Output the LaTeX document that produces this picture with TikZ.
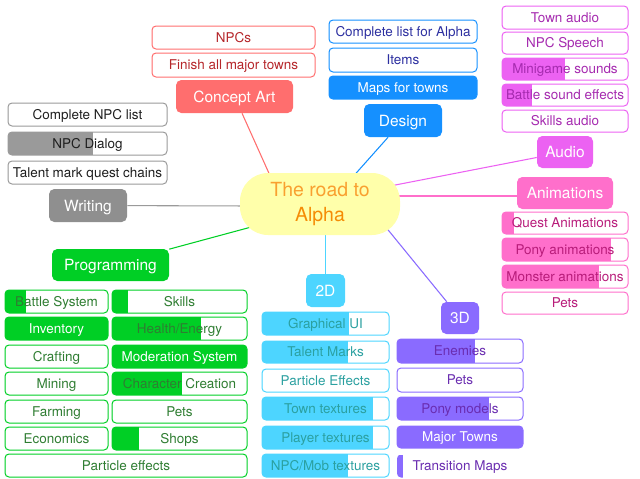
\documentclass[tikz,border=0pt]{standalone}
\usepackage{fontspec}
\setmainfont{TeX Gyre Heros}
\usetikzlibrary{backgrounds}
\definecolor{cred}{HTML}{FF6E6E}
\definecolor{tred}{HTML}{B5262A}
\definecolor{cblue}{HTML}{1590FF}
\definecolor{tblue}{HTML}{2C2FA0}
\definecolor{cmag}{HTML}{EC62F2}
\definecolor{tmag}{HTML}{A52AAF}
\definecolor{cpink}{HTML}{FF6FCB}
\definecolor{tpink}{HTML}{B81C7A}
\definecolor{cgray}{HTML}{8F8F8F}
\definecolor{bgray}{HTML}{9A9A9A}
\definecolor{tgray}{HTML}{1E1E1E}
\definecolor{cgreen}{HTML}{00CF25}
\definecolor{tgreen}{HTML}{2F7D32}
\definecolor{ccyan}{HTML}{4DD5FF}
\definecolor{tcyan}{HTML}{2BA0A0}
\definecolor{cpurp}{HTML}{8A6BFF}
\definecolor{tpurp}{HTML}{6A2DB0}
\definecolor{cyellow}{HTML}{FFFFAA}
\definecolor{orangeA}{HTML}{F9A030}
\definecolor{orangeB}{HTML}{F58C05}
\newcommand\itemfont{\fontsize{10.1}{11.5}\selectfont}
\newcommand\brfont{\fontsize{11.6}{13.5}\selectfont}
\tikzset{
  itembox/.style={rounded corners=3pt, line width=0.75pt, inner sep=0pt, font=\itemfont,
    text height=7.3pt, text depth=0pt},
  branchbox/.style={rounded corners=4pt, inner sep=0pt, text=white, font=\brfont,
    text height=8.4pt, text depth=0pt},
  conn/.style={line width=0.8pt},
}
% name, colour, text colour, x1, y1, x2, y2, fill end x, text
\newcommand\itm[9]{%
  \node[itembox, draw=#2, text=#3,
    minimum width={(#6-#4)*0.75pt}, minimum height={(#7-#5)*0.75pt},
    path picture={\fill[#2, sharp corners] (path picture bounding box.south west) rectangle ([xshift={(#8-#4)*0.75pt}]path picture bounding box.north west);}]
    (#1) at ({(#4+#6)/2},{(#5+#7)/2}) {#9};}
% name, colour, x1, y1, x2, y2, text
\newcommand\brn[7]{%
  \node[branchbox, fill=#2,
    minimum width={(#5-#3)*0.75pt}, minimum height={(#6-#4)*0.75pt}]
    (#1) at ({(#3+#5)/2},{(#4+#6)/2}) {#7};}
\begin{document}
\begin{tikzpicture}[x=0.75pt,y=-0.75pt]
\useasboundingbox (0,0) rectangle (640,479);
% centre
\node[fill=cyellow, rounded corners=21pt, minimum width=120pt, minimum height=46.5pt,
  inner sep=0pt, align=center, font=\fontsize{14.6}{18.75}\selectfont]
  (center) at (320,204) {\textcolor{orangeA}{The road to}\\\textcolor{orangeB}{Alpha}};
% Concept Art
\brn{concept}{cred}{176}{80}{293}{113}{Concept Art}
\itm{npcs}{cred}{tred}{152}{26}{315}{49}{152}{NPCs}
\itm{towns}{cred}{tred}{152}{53}{315}{77}{152}{Finish all major towns}
% Design
\brn{design}{cblue}{364}{104}{442}{137}{Design}
\itm{clist}{cblue}{tblue}{329}{20}{477}{43}{329}{Complete list for Alpha}
\itm{items}{cblue}{tblue}{329}{48}{477}{72}{329}{Items}
\itm{maps}{cblue}{white}{329}{76}{477}{99}{477}{Maps for towns}
% Audio
\brn{audio}{cmag}{537}{136}{593}{168}{Audio}
\itm{townaudio}{cmag}{tmag}{502}{6}{628}{29}{502}{Town audio}
\itm{speech}{cmag}{tmag}{502}{32}{628}{54}{502}{NPC Speech}
\itm{minigame}{cmag}{tmag}{502}{58}{628}{80}{565}{Minigame sounds}
\itm{battlesfx}{cmag}{tmag}{502}{84}{628}{106}{532}{Battle sound effects}
\itm{skillsaudio}{cmag}{tmag}{502}{110}{628}{132}{502}{Skills audio}
% Animations
\brn{anim}{cpink}{517}{177}{613}{209}{Animations}
\itm{questanim}{cpink}{tpink}{502}{212}{628}{234}{514}{Quest Animations}
\itm{ponyanim}{cpink}{tpink}{502}{238}{628}{261}{611}{Pony animations}
\itm{monsteranim}{cpink}{tpink}{502}{265}{628}{288}{599}{Monster animations}
\itm{animpets}{cpink}{tpink}{502}{292}{628}{314}{502}{Pets}
% Writing
\brn{writing}{cgray}{49}{189}{127}{222}{Writing}
\itm{npclist}{bgray}{tgray}{8}{103}{167}{126}{8}{Complete NPC list}
\itm{dialog}{bgray}{tgray}{8}{132}{167}{155}{93}{NPC Dialog}
\itm{talentq}{bgray}{tgray}{8}{161}{167}{184}{8}{Talent mark quest chains}
% Programming
\brn{prog}{cgreen}{52}{249}{169}{281}{Programming}
\itm{battle}{cgreen}{tgreen}{5}{290}{108}{313}{26}{Battle System}
\itm{skills}{cgreen}{tgreen}{112}{290}{247}{313}{128}{Skills}
\itm{inventory}{cgreen}{white}{5}{317}{108}{340}{108}{Inventory}
\itm{health}{cgreen}{tgreen}{112}{317}{247}{340}{201}{Health/Energy}
\itm{crafting}{cgreen}{tgreen}{5}{345}{108}{368}{5}{Crafting}
\itm{moderation}{cgreen}{white}{112}{345}{247}{368}{247}{Moderation System}
\itm{mining}{cgreen}{tgreen}{5}{372}{108}{395}{5}{Mining}
\itm{character}{cgreen}{tgreen}{112}{372}{247}{395}{182}{Character Creation}
\itm{farming}{cgreen}{tgreen}{5}{400}{108}{423}{5}{Farming}
\itm{progpets}{cgreen}{tgreen}{112}{400}{247}{423}{112}{Pets}
\itm{economics}{cgreen}{tgreen}{5}{427}{108}{450}{5}{Economics}
\itm{shops}{cgreen}{tgreen}{112}{427}{247}{450}{139}{Shops}
\itm{particles}{cgreen}{tgreen}{5}{454}{247}{477}{5}{Particle effects}
% 2D
\brn{twoD}{ccyan}{306}{274}{345}{307}{2D}
\itm{gui}{ccyan}{tcyan}{262}{312}{389}{335}{349}{Graphical UI}
\itm{talent}{ccyan}{tcyan}{262}{341}{389}{363}{348}{Talent Marks}
\itm{peffects}{ccyan}{tcyan}{262}{369}{389}{392}{262}{Particle Effects}
\itm{towntex}{ccyan}{tcyan}{262}{397}{389}{420}{373}{Town textures}
\itm{playertex}{ccyan}{tcyan}{262}{426}{389}{449}{373}{Player textures}
\itm{mobtex}{ccyan}{tcyan}{262}{454}{389}{477}{348}{NPC/Mob textures}
% 3D
\brn{threeD}{cpurp}{441}{302}{479}{334}{3D}
\itm{enemies}{cpurp}{tpurp}{397}{339}{523}{363}{475}{Enemies}
\itm{pets3d}{cpurp}{tpurp}{397}{368}{523}{392}{397}{Pets}
\itm{ponymodels}{cpurp}{tpurp}{397}{397}{523}{420}{489}{Pony models}
\itm{majortowns}{cpurp}{white}{397}{426}{523}{448}{523}{Major Towns}
\node[itembox, text=tpurp, minimum width={126*0.75pt}, minimum height={23*0.75pt},
  path picture={\fill[cpurp, sharp corners] (path picture bounding box.south west) rectangle ([xshift={6*0.75pt}]path picture bounding box.north west);}]
  (transition) at (460,466) {Transition Maps};
% connectors
\coordinate (eConcept) at (272,180);
\coordinate (eDesign) at (350,180);
\coordinate (eAudio) at (385,187);
\coordinate (eAnim) at (390,196);
\coordinate (eWriting) at (250,206);
\coordinate (eProg) at (255,226);
\coordinate (e3D) at (380,220);
\begin{scope}[on background layer]
\draw[conn, cred] (concept) -- (eConcept);
\draw[conn, cblue] (design) -- (eDesign);
\draw[conn, cmag] (audio) -- (eAudio);
\draw[conn, cpink] (eAnim) -- (eAnim -| anim.west);
\draw[conn, bgray] (writing) -- (eWriting);
\draw[conn, cgreen] (prog) -- (eProg);
\draw[conn, ccyan] (twoD.north) -- (twoD.north |- center.south);
\draw[conn, cpurp] (threeD) -- (e3D);
\end{scope}
\end{tikzpicture}
\end{document}
